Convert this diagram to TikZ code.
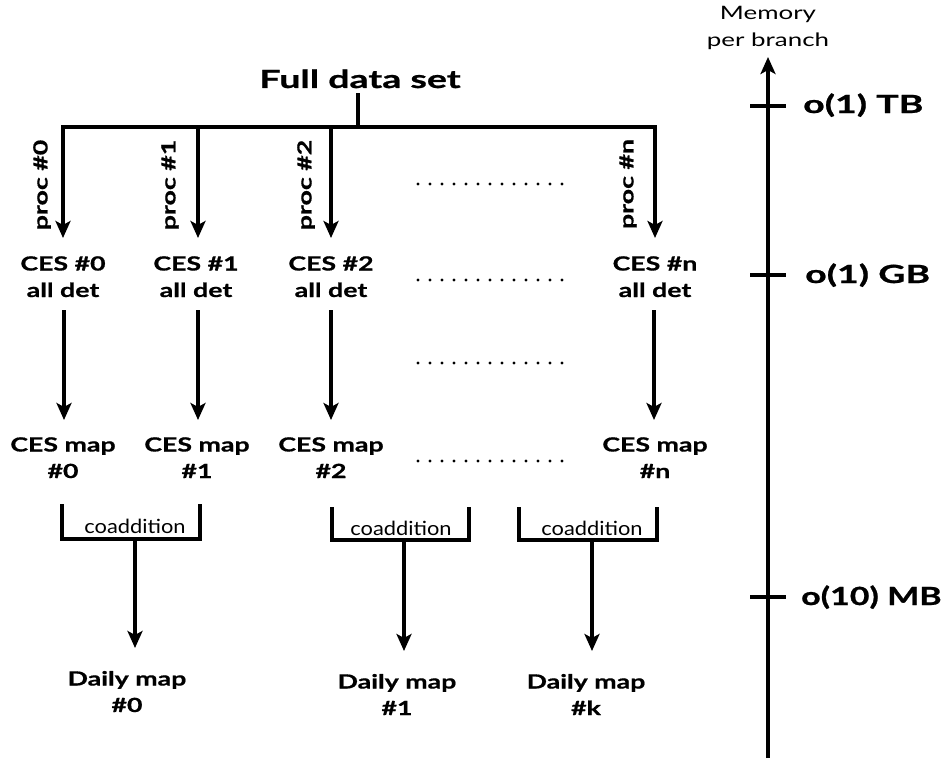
\documentclass[tikz,border=0pt]{standalone}
\usepackage{fontspec}
\setmainfont{Lato}[FakeStretch=1.12]
\newfontfamily\lblfont{Lato}[FakeStretch=1.37, FakeBold=0.8]
\newfontfamily\bigfont{Lato}[FakeStretch=1.5, FakeBold=0.9]
\newfontfamily\mbfont{Lato}[FakeStretch=1.36, FakeBold=0.9]
\newfontfamily\memfont{Lato}[FakeStretch=1.4]
\usetikzlibrary{arrows.meta}
\tikzset{
  lbl/.style={font=\lblfont\bfseries\fontsize{19.5}{26.5}\selectfont, align=center, inner sep=0pt},
  biglbl/.style={font=\bigfont\bfseries\fontsize{25}{28}\selectfont, inner sep=0pt},
  mblbl/.style={font=\mbfont\bfseries\fontsize{25}{28}\selectfont, inner sep=0pt},
  reglbl/.style={font=\fontsize{19.5}{28}\selectfont, inner sep=0pt, align=center},
  memlbl/.style={font=\memfont\fontsize{18.5}{28}\selectfont, inner sep=0pt, align=center},
  ln/.style={line width=3.3pt},
  arr/.style={line width=3.3pt, -{Stealth[length=17pt, width=15pt, inset=4pt]}},
  dotrow/.style={line width=3.3pt, line cap=round, dash pattern=on 0pt off 12pt},
}
\begin{document}
\begin{tikzpicture}[x=1pt, y=-1pt]
\useasboundingbox (0,0) rectangle (947,760);

% top
\node[biglbl, anchor=base] (full) at (360,88) {Full data set};
\coordinate (tickt) at (358,93);
\coordinate (hub) at (358,127);
\coordinate (b0) at (63,127);
\coordinate (b1) at (198,127);
\coordinate (b2) at (331,127);
\coordinate (bn) at (655,127);
\coordinate (t0) at (63,238);
\coordinate (t1) at (198,238);
\coordinate (t2) at (331,238);
\coordinate (tn) at (655,238);
\draw[ln] (tickt) -- (hub);
\draw[arr, line join=miter] (hub) -- (b0) -- (t0);
\draw[arr, line join=miter] (hub) -- (bn) -- (tn);
\draw[arr] (b1) -- (t1);
\draw[arr] (b2) -- (t2);

\node[lbl, rotate=90] (p0) at (42,185) {proc \#0};
\node[lbl, rotate=90] (p1) at (170,185) {proc \#1};
\node[lbl, rotate=90] (p2) at (306,185) {proc \#2};
\node[lbl, rotate=90] (pn) at (628,184) {proc \#n};

% CES all det (anchor = baseline of last line)
\node[lbl, anchor=base] (c0) at (63,297) {CES \#0\\all det};
\node[lbl, anchor=base] (c1) at (196,297) {CES \#1\\all det};
\node[lbl, anchor=base] (c2) at (331,297) {CES \#2\\all det};
\node[lbl, anchor=base] (cn) at (655,297) {CES \#n\\all det};

\coordinate (s0) at (64,310);
\coordinate (s1) at (198,310);
\coordinate (s2) at (331,310);
\coordinate (sn) at (654,310);
\coordinate (e0) at (64,420);
\coordinate (e1) at (198,420);
\coordinate (e2) at (331,420);
\coordinate (en) at (654,420);
\draw[arr] (s0) -- (e0);
\draw[arr] (s1) -- (e1);
\draw[arr] (s2) -- (e2);
\draw[arr] (sn) -- (en);

% CES maps
\node[lbl, anchor=base] (m0) at (63,478) {CES map\\\#0};
\node[lbl, anchor=base] (m1) at (197,478) {CES map\\\#1};
\node[lbl, anchor=base] (m2) at (331,478) {CES map\\\#2};
\node[lbl, anchor=base] (mn) at (655,478) {CES map\\\#n};

% dotted rows
\coordinate (d1a) at (418,184); \coordinate (d1b) at (562,184);
\coordinate (d2a) at (418,280); \coordinate (d2b) at (562,280);
\coordinate (d3a) at (418,363); \coordinate (d3b) at (562,363);
\coordinate (d4a) at (418,461); \coordinate (d4b) at (562,461);
\draw[dotrow] (d1a) -- (d1b);
\draw[dotrow] (d2a) -- (d2b);
\draw[dotrow] (d3a) -- (d3b);
\draw[dotrow] (d4a) -- (d4b);

% brackets
\coordinate (k0a) at (62,504); \coordinate (k0b) at (62,539);
\coordinate (k0c) at (200,539); \coordinate (k0d) at (200,504);
\coordinate (k0m) at (135,539); \coordinate (k0e) at (135,648);
\draw[ln, line join=miter] (k0a) -- (k0b) -- (k0c) -- (k0d);
\draw[arr] (k0m) -- (k0e);
\node[reglbl, anchor=base] (co0) at (135,533) {coaddition};

\coordinate (k1a) at (332,507); \coordinate (k1b) at (332,540);
\coordinate (k1c) at (469,540); \coordinate (k1d) at (469,507);
\coordinate (k1m) at (404,540); \coordinate (k1e) at (404,651);
\draw[ln, line join=miter] (k1a) -- (k1b) -- (k1c) -- (k1d);
\draw[arr] (k1m) -- (k1e);
\node[reglbl, anchor=base] (co1) at (401,535) {coaddition};

\coordinate (k2a) at (519,507); \coordinate (k2b) at (519,540);
\coordinate (k2c) at (657,540); \coordinate (k2d) at (657,507);
\coordinate (k2m) at (592,540); \coordinate (k2e) at (592,651);
\draw[ln, line join=miter] (k2a) -- (k2b) -- (k2c) -- (k2d);
\draw[arr] (k2m) -- (k2e);
\node[reglbl, anchor=base] (co2) at (592,535) {coaddition};

% daily maps
\node[lbl, anchor=base] (dm0) at (127,712) {Daily map\\\#0};
\node[lbl, anchor=base] (dm1) at (397,715) {Daily map\\\#1};
\node[lbl, anchor=base] (dmk) at (586,715) {Daily map\\\#k};

% memory axis
\coordinate (ax0) at (768,758);
\coordinate (ax1) at (768,57);
\draw[arr] (ax0) -- (ax1);
\node[memlbl, anchor=base] (mem) at (768,47) {Memory\\per branch};
\coordinate (tb1) at (750,106); \coordinate (tb2) at (786,106);
\coordinate (gb1) at (750,275); \coordinate (gb2) at (786,275);
\coordinate (mb1) at (750,597); \coordinate (mb2) at (786,597);
\draw[ln] (tb1) -- (tb2);
\draw[ln] (gb1) -- (gb2);
\draw[ln] (mb1) -- (mb2);
\node[biglbl, anchor=base west] (ltb) at (803,113) {o(1) TB};
\node[biglbl, anchor=base west] (lgb) at (805,283) {o(1) GB};
\node[mblbl, anchor=base west] (lmb) at (801,605) {o(10) MB};
\end{tikzpicture}
\end{document}
